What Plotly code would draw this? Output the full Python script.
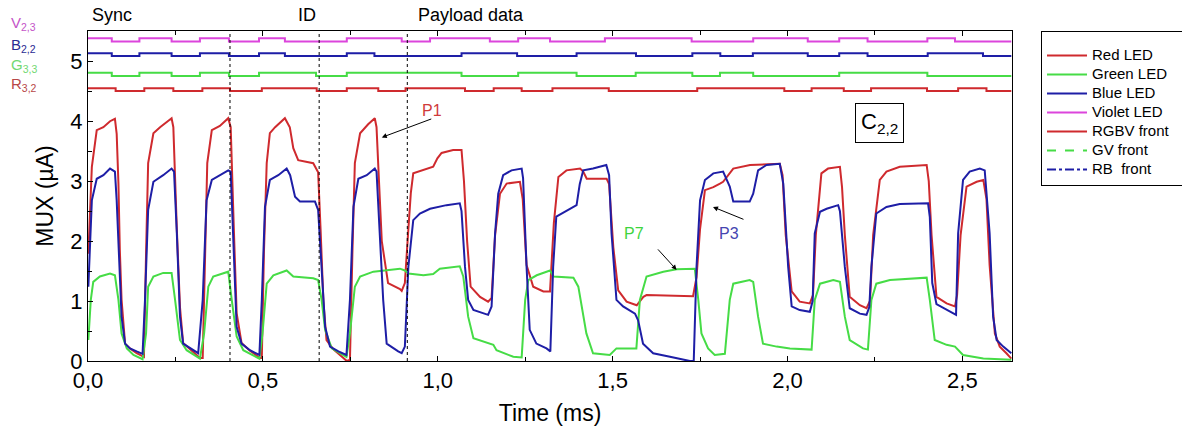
import plotly.graph_objects as go

# ---------------- LED drive waveforms (top traces) ----------------
# Edge times in ms; each LED starts "on" and toggles at every edge.
RED_EDGES = [0.079, 0.161, 0.244, 0.327, 0.406, 0.497, 0.654, 0.740, 0.830, 0.908,
             1.078, 1.160, 1.240, 1.328, 1.489, 1.742, 1.991, 2.069, 2.161, 2.239,
             2.399, 2.488, 2.569]
GREEN_EDGES = [0.068, 0.147, 0.239, 0.320, 0.403, 0.489, 0.652, 0.740, 1.068, 1.230,
               1.397, 1.566, 1.728, 1.807, 1.902, 2.148, 2.400]
BLUE_EDGES = [0.068, 0.147, 0.239, 0.320, 0.403, 0.489, 0.563, 0.740, 0.819, 1.068,
              1.227, 1.397, 1.567, 1.728, 1.808, 1.901, 2.058, 2.148, 2.229, 2.401,
              2.559]
VIOLET_EDGES = [0.068, 0.147, 0.239, 0.320, 0.403, 0.489, 0.563, 0.740, 0.897, 0.978,
                1.149, 1.230, 1.321, 1.478, 1.726, 1.902, 2.058, 2.148, 2.229, 2.400,
                2.479]
# (off level, on level) in µA-axis units
RED_LEVELS = (4.505, 4.550)
GREEN_LEVELS = (4.755, 4.810)
BLUE_LEVELS = (5.088, 5.135)
VIOLET_LEVELS = (5.328, 5.383)
T_END = 2.640

# ---------------- MUX photocurrent (bottom traces) ----------------
RGBV_T = [0.001, 0.011, 0.025, 0.044, 0.063, 0.077, 0.082, 0.087, 0.091, 0.096, 0.106, 0.120, 0.139, 0.156,
          0.160, 0.166, 0.172, 0.187, 0.206, 0.239, 0.244, 0.254, 0.263, 0.272, 0.292, 0.320,
          0.328, 0.334, 0.341, 0.354, 0.377, 0.401, 0.408, 0.417, 0.425, 0.439, 0.463, 0.492,
          0.497, 0.503, 0.511, 0.520, 0.535, 0.563, 0.577, 0.587, 0.601, 0.644, 0.658, 0.665, 0.673, 0.682, 0.701, 0.740,
          0.749, 0.756, 0.763, 0.778, 0.801, 0.820, 0.825, 0.832, 0.840, 0.858, 0.892, 0.897,
          0.906, 0.916, 0.923, 0.930, 0.959, 0.987, 0.999, 1.011, 1.044, 1.068, 1.075, 1.084, 1.094, 1.121, 1.144,
          1.154, 1.164, 1.178, 1.197, 1.235, 1.243, 1.254, 1.273, 1.302, 1.321,
          1.326, 1.332, 1.345, 1.368, 1.407, 1.416, 1.426, 1.483, 1.490, 1.502, 1.516, 1.540, 1.569, 1.588, 1.597, 1.730,
          1.740, 1.750, 1.764, 1.788, 1.807, 1.816, 1.845, 1.893, 1.978, 1.986, 1.995, 2.012, 2.035, 2.064,
          2.073, 2.081, 2.097, 2.116, 2.150, 2.156, 2.164, 2.178, 2.207, 2.226,
          2.236, 2.245, 2.264, 2.283, 2.321, 2.398, 2.404, 2.412, 2.426, 2.455, 2.479,
          2.485, 2.495, 2.512, 2.541, 2.560, 2.569, 2.578, 2.593, 2.607, 2.626, 2.640]
RGBV_I = [1.79, 3.24, 3.85, 3.90, 4.00, 4.04, 3.79, 2.96, 1.85, 1.02, 0.29, 0.21, 0.13, 0.07,
          0.07, 1.80, 3.30, 3.80, 3.90, 4.05, 3.90, 2.20, 0.90, 0.30, 0.20, 0.05,
          0.05, 1.80, 3.30, 3.85, 3.92, 4.05, 3.90, 2.20, 0.80, 0.30, 0.17, 0.05,
          0.05, 1.80, 3.30, 3.80, 3.90, 4.05, 3.90, 3.55, 3.35, 3.30, 3.15, 2.20, 1.00, 0.35, 0.20, 0.00,
          0.02, 1.80, 3.30, 3.80, 3.95, 4.05, 3.90, 3.00, 2.00, 1.30, 1.20, 1.17,
          1.30, 2.20, 2.80, 3.13, 3.18, 3.24, 3.38, 3.47, 3.52, 3.52, 3.00, 2.00, 1.24, 1.07, 0.99,
          1.05, 2.10, 2.79, 2.96, 2.99, 2.70, 1.60, 1.24, 1.16, 1.16,
          1.60, 2.30, 3.07, 3.18, 3.21, 3.16, 3.04, 3.04, 2.95, 1.90, 1.18, 0.99, 0.93, 1.07, 1.10, 1.08,
          1.40, 2.20, 2.85, 2.90, 2.96, 2.99, 3.21, 3.27, 3.29, 3.10, 2.10, 1.16, 0.99, 0.96,
          1.10, 2.10, 3.13, 3.21, 3.24, 2.90, 2.10, 1.07, 0.93, 0.88,
          1.00, 2.10, 3.02, 3.16, 3.24, 3.27, 3.00, 2.10, 1.07, 0.96, 0.91,
          1.10, 2.10, 2.91, 2.99, 3.02, 2.70, 1.60, 0.46, 0.24, 0.13, 0.04]

RB_T = [0.001, 0.011, 0.025, 0.044, 0.063, 0.077, 0.082, 0.090, 0.096, 0.106, 0.120, 0.139, 0.156,
        0.163, 0.172, 0.187, 0.215, 0.239, 0.246, 0.254, 0.263, 0.272, 0.292, 0.315,
        0.328, 0.339, 0.354, 0.377, 0.401, 0.408, 0.415, 0.425, 0.439, 0.463, 0.490,
        0.497, 0.506, 0.520, 0.544, 0.568, 0.578, 0.592, 0.606, 0.649, 0.658, 0.668, 0.678, 0.692, 0.716, 0.739,
        0.749, 0.759, 0.773, 0.797, 0.820, 0.825, 0.835, 0.844, 0.854, 0.873, 0.887, 0.897,
        0.906, 0.916, 0.930, 0.949, 0.978, 1.025, 1.063, 1.068, 1.078, 1.087, 1.102, 1.144,
        1.154, 1.164, 1.173, 1.187, 1.211, 1.240, 1.244, 1.254, 1.263, 1.282, 1.311, 1.322,
        1.330, 1.339, 1.354, 1.397, 1.406, 1.416, 1.444, 1.482, 1.490, 1.497, 1.511, 1.530, 1.564, 1.573, 1.587,
        1.616, 1.664, 1.721, 1.732,
        1.740, 1.750, 1.764, 1.788, 1.816, 1.835, 1.845, 1.892, 1.902, 1.916, 1.940, 1.978, 1.988, 2.002, 2.012,
        2.035, 2.064, 2.072, 2.078, 2.093, 2.112, 2.145, 2.150, 2.164, 2.178, 2.207, 2.226,
        2.234, 2.240, 2.254, 2.283, 2.321, 2.402, 2.407, 2.414, 2.426, 2.455, 2.482,
        2.488, 2.502, 2.521, 2.550, 2.564, 2.578, 2.588, 2.598, 2.617, 2.640]
RB_I = [1.24, 2.68, 3.04, 3.10, 3.21, 3.16, 2.68, 1.57, 0.74, 0.29, 0.21, 0.16, 0.12,
        1.02, 2.52, 2.99, 3.10, 3.21, 3.16, 2.13, 0.74, 0.29, 0.21, 0.13,
        1.02, 2.68, 3.02, 3.10, 3.18, 3.16, 2.13, 0.57, 0.29, 0.18, 0.10,
        1.02, 2.57, 3.02, 3.10, 3.21, 3.10, 2.74, 2.66, 2.66, 2.52, 1.57, 0.57, 0.24, 0.16, 0.10,
        1.02, 2.57, 3.04, 3.10, 3.21, 3.16, 2.13, 1.02, 0.29, 0.21, 0.16, 0.13,
        0.24, 1.57, 2.35, 2.46, 2.54, 2.60, 2.63, 2.50, 1.57, 1.02, 0.85, 0.77,
        0.91, 2.13, 2.79, 3.10, 3.18, 3.21, 3.05, 1.57, 0.52, 0.29, 0.21, 0.16,
        1.57, 2.41, 2.46, 2.60, 2.95, 3.18, 3.21, 3.27, 3.10, 2.13, 1.02, 0.91, 0.79, 0.68, 0.29,
        0.13, 0.07, 0.00, 0.00,
        1.57, 2.68, 3.02, 3.13, 3.16, 2.91, 2.66, 2.66, 2.79, 3.18, 3.27, 3.29, 2.96, 1.57, 0.91,
        0.85, 0.82, 1.00, 2.13, 2.49, 2.54, 2.60, 2.50, 1.57, 0.88, 0.79, 0.77,
        0.90, 1.57, 2.46, 2.57, 2.62, 2.63, 2.40, 1.30, 0.95, 0.85, 0.77,
        2.13, 3.02, 3.16, 3.21, 3.18, 2.13, 0.74, 0.35, 0.24, 0.13]

GV_T = [0.001, 0.008, 0.015, 0.034, 0.063, 0.077, 0.087, 0.096, 0.111, 0.130, 0.156,
        0.166, 0.172, 0.187, 0.215, 0.239, 0.249, 0.263, 0.282, 0.320,
        0.332, 0.344, 0.358, 0.401, 0.411, 0.425, 0.444, 0.490,
        0.499, 0.511, 0.530, 0.568, 0.587, 0.644, 0.658, 0.668, 0.678, 0.697, 0.739,
        0.749, 0.763, 0.778, 0.816, 0.854, 0.892, 0.906, 0.916, 0.959, 0.987, 1.006, 1.063,
        1.073, 1.087, 1.102, 1.159, 1.168, 1.216, 1.240,
        1.250, 1.259, 1.283, 1.321, 1.331, 1.388, 1.402, 1.425, 1.444, 1.492, 1.511, 1.568,
        1.578, 1.597, 1.645, 1.683, 1.735, 1.745, 1.754, 1.773, 1.792, 1.821,
        1.835, 1.845, 1.892, 1.902, 1.916, 1.930, 1.969, 2.007, 2.069,
        2.078, 2.093, 2.131, 2.150, 2.164, 2.178, 2.216, 2.230,
        2.240, 2.254, 2.293, 2.398, 2.407, 2.421, 2.455, 2.479, 2.502, 2.560, 2.640]
GV_I = [0.35, 1.02, 1.32, 1.41, 1.46, 1.43, 1.02, 0.46, 0.21, 0.10, 0.03,
        0.46, 1.24, 1.41, 1.47, 1.47, 1.02, 0.35, 0.18, 0.04,
        0.46, 1.24, 1.41, 1.49, 1.02, 0.41, 0.18, 0.04,
        0.46, 1.29, 1.43, 1.51, 1.41, 1.38, 1.35, 1.02, 0.52, 0.21, 0.07,
        0.46, 1.24, 1.41, 1.49, 1.52, 1.54, 1.51, 1.46, 1.43, 1.45, 1.54, 1.58,
        1.41, 0.74, 0.38, 0.27, 0.18, 0.07, 0.06,
        1.02, 1.35, 1.43, 1.51, 1.41, 1.39, 1.24, 0.46, 0.13, 0.10, 0.21, 0.21,
        1.02, 1.41, 1.49, 1.53, 1.54, 1.02, 0.46, 0.21, 0.10, 0.12,
        1.02, 1.29, 1.35, 1.32, 0.74, 0.29, 0.24, 0.21, 0.19,
        1.02, 1.29, 1.35, 1.32, 0.74, 0.35, 0.21, 0.19,
        1.02, 1.29, 1.35, 1.39, 1.02, 0.35, 0.27, 0.24, 0.10, 0.04, 0.02]

# Frame boundaries (ms) and section labels
SECTION_BOUNDS = [0.406, 0.661, 0.913]
SECTION_LABELS = ["Sync", "ID", "Payload data"]
SECTION_LABEL_T = [0.006, 0.595, 0.938]

X_TICKS = [0.0, 0.5, 1.0, 1.5, 2.0, 2.5]
X_TICK_TEXT = ["0,0", "0,5", "1,0", "1,5", "2,0", "2,5"]
Y_TICKS = [0, 1, 2, 3, 4, 5]

C_RED = "#cf2a2e"
C_GREEN = "#46dc46"
C_BLUE = "#1e1ea6"
C_VIOLET = "#dc45dc"
FONT = "Liberation Sans, Arial, sans-serif"


def step_xy(edges, levels):
    xs, ys = [0.0], [levels[1]]
    state = 1
    for e in edges:
        state = 1 - state
        xs.append(e)
        ys.append(levels[state])
    xs.append(T_END)
    ys.append(levels[state])
    return xs, ys


def legend_label(text, pad=0):
    # rows are spaced for 12 px text while the label itself is set at 15 px
    return '<span style="font-size:15px">' + text + "\u00a0" * pad + "</span>"


fig = go.Figure()

for name, edges, levels, color in [
    ("Red LED", RED_EDGES, RED_LEVELS, C_RED),
    ("Green LED", GREEN_EDGES, GREEN_LEVELS, C_GREEN),
    ("Blue LED", BLUE_EDGES, BLUE_LEVELS, C_BLUE),
    ("Violet LED", VIOLET_EDGES, VIOLET_LEVELS, C_VIOLET),
]:
    xs, ys = step_xy(edges, levels)
    fig.add_trace(go.Scatter(x=xs, y=ys, mode="lines", name=legend_label(name),
                             line=dict(color=color, width=2, shape="hv")))

fig.add_trace(go.Scatter(x=RGBV_T, y=RGBV_I, mode="lines", name=legend_label("RGBV front", 3),
                         line=dict(color=C_RED, width=2)))
# legend keys for the two remaining fronts
fig.add_trace(go.Scatter(x=[None], y=[None], mode="lines", name=legend_label("GV front"),
                         line=dict(color=C_GREEN, width=2, dash="dash")))
fig.add_trace(go.Scatter(x=[None], y=[None], mode="lines", name=legend_label("RB\u00a0 front"),
                         line=dict(color=C_BLUE, width=2, dash="dashdot")))
fig.add_trace(go.Scatter(x=GV_T, y=GV_I, mode="lines", showlegend=False,
                         line=dict(color=C_GREEN, width=2)))
fig.add_trace(go.Scatter(x=RB_T, y=RB_I, mode="lines", showlegend=False,
                         line=dict(color=C_BLUE, width=2)))

for t in SECTION_BOUNDS:
    fig.add_shape(type="line", xref="x", yref="paper", x0=t, x1=t, y0=0, y1=1,
                  line=dict(color="black", width=1, dash="3px,3px"))

ann = []
for label, t in zip(SECTION_LABELS, SECTION_LABEL_T):
    ann.append(dict(text=label, x=t, y=1.047, xref="x", yref="paper",
                    xanchor="left", yanchor="middle", showarrow=False,
                    font=dict(size=18, color="black", family=FONT)))

# channel labels left of the axis
for txt, yy, col in [("V<sub>2,3</sub>", 1.024, "#c455c8"),
                     ("B<sub>2,2</sub>", 0.957, "#2b2b92"),
                     ("G<sub>3,3</sub>", 0.896, "#72d872"),
                     ("R<sub>3,2</sub>", 0.838, "#b84848")]:
    ann.append(dict(text=txt, x=-0.086, y=yy, xref="paper", yref="paper",
                    xanchor="left", yanchor="middle", showarrow=False,
                    font=dict(size=15, color=col, family=FONT)))

# pointer arrows and their labels
for ht, hv, ax, ay in [(0.840, 3.73, 51, -19), (1.683, 1.52, -20, -22), (1.787, 2.57, 32, 13)]:
    ann.append(dict(text="", x=ht, y=hv, xref="x", yref="y", ax=ax, ay=ay,
                    showarrow=True, arrowhead=2, arrowsize=1, arrowwidth=1,
                    arrowcolor="black", standoff=0, startstandoff=0))
for txt, t, v, col in [("P1", 0.983, 4.18, "#d03a3a"),
                       ("P7", 1.561, 2.12, "#3ed43e"),
                       ("P3", 1.833, 2.12, "#4545b0")]:
    ann.append(dict(text=txt, x=t, y=v, xref="x", yref="y", showarrow=False,
                    font=dict(size=16, color=col, family=FONT)))

ann.append(dict(text="C<sub>2,2</sub>", x=2.264, y=3.975, xref="x", yref="y",
                showarrow=False, bordercolor="black", borderwidth=1, borderpad=5,
                bgcolor="white", font=dict(size=22, color="black", family=FONT)))

fig.update_layout(
    width=1182, height=434,
    margin=dict(l=88, r=170, t=31, b=73, autoexpand=False),
    paper_bgcolor="white", plot_bgcolor="white",
    font=dict(family=FONT, color="black"),
    annotations=ann,
    legend=dict(x=1.0314, y=1.0, xanchor="left", yanchor="top",
                bordercolor="black", borderwidth=1, bgcolor="white",
                font=dict(size=12, family=FONT, color="black"),
                title=dict(text="\u00a0", font=dict(size=7)),
                itemwidth=40, tracegroupgap=0),
    xaxis=dict(range=[0, 2.642], showgrid=False, zeroline=False,
               showline=True, linecolor="black", linewidth=1, mirror="ticks",
               ticks="inside", ticklen=5, tickcolor="black",
               tickvals=X_TICKS, ticktext=X_TICK_TEXT,
               tickfont=dict(size=22, family=FONT),
               minor=dict(dtick=0.25, ticks="inside", ticklen=4, tickcolor="black"),
               title=dict(text="Time (ms)", font=dict(size=23, family=FONT), standoff=12)),
    yaxis=dict(range=[0, 5.505], showgrid=False, zeroline=False,
               showline=True, linecolor="black", linewidth=1, mirror=True,
               ticks="inside", ticklen=5, tickcolor="black",
               tickvals=Y_TICKS, tickfont=dict(size=22, family=FONT),
               minor=dict(dtick=0.5, ticks="inside", ticklen=4, tickcolor="black"),
               title=dict(text="MUX (µA)", font=dict(size=23, family=FONT), standoff=10)),
)

fig.write_html("out.html")
